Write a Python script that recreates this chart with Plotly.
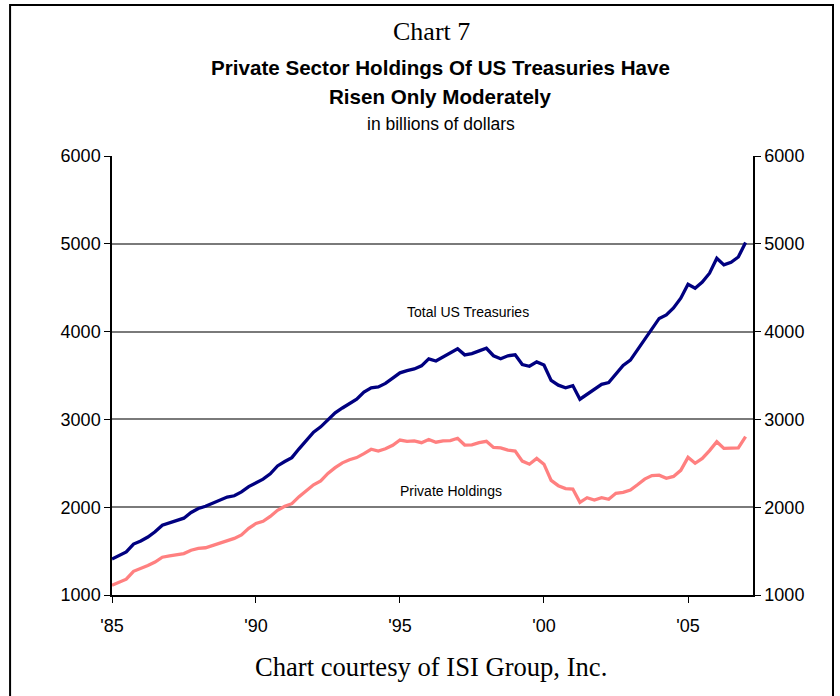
import pandas as pd
import plotly.graph_objects as go

# Quarterly observations, 1985Q1 .. 2007Q1 (billions of dollars)
quarters = pd.date_range("1985-01-01", periods=89, freq="QS")

total_us_treasuries = [
    1410, 1450, 1490, 1580, 1615, 1660, 1720, 1795, 1820, 1850, 1875, 1940,
    1985, 2010, 2045, 2080, 2115, 2130, 2175, 2235, 2280, 2320, 2380, 2470,
    2520, 2565, 2665, 2760, 2855, 2915, 2990, 3075, 3130, 3185, 3230, 3310,
    3360, 3370, 3410, 3470, 3530, 3555, 3575, 3610, 3690, 3665, 3710, 3760,
    3805, 3735, 3750, 3780, 3810, 3725, 3690, 3725, 3735, 3625, 3605, 3655,
    3620, 3445, 3390, 3360, 3385, 3230, 3290, 3345, 3400, 3420, 3520, 3615,
    3675, 3790, 3910, 4040, 4150, 4190, 4270, 4380, 4540, 4495, 4565, 4665,
    4835, 4760, 4790, 4850, 5015,
]

private_holdings = [
    1110, 1140, 1180, 1270, 1300, 1335, 1375, 1430, 1445, 1460, 1472, 1510,
    1530, 1538, 1565, 1590, 1625, 1645, 1685, 1760, 1815, 1840, 1895, 1965,
    2010, 2040, 2120, 2190, 2255, 2300, 2385, 2450, 2505, 2540, 2565, 2610,
    2660, 2640, 2665, 2705, 2765, 2750, 2755, 2735, 2772, 2740, 2755, 2758,
    2785, 2708, 2710, 2735, 2750, 2680, 2675, 2650, 2640, 2525, 2490, 2555,
    2490, 2305, 2245, 2212, 2207, 2056, 2108, 2082, 2108, 2090, 2158, 2170,
    2196, 2255, 2320, 2360, 2365, 2329, 2350, 2420, 2568, 2500, 2555, 2644,
    2746, 2670, 2668, 2675, 2803,
]

tick_dates = ["1985-01-01", "1990-01-01", "1995-01-01", "2000-01-01", "2005-01-01"]
tick_labels = ["'85", "'90", "'95", "'00", "'05"]
y_ticks = [1000, 2000, 3000, 4000, 5000, 6000]

SANS = "Liberation Sans, Arial, sans-serif"
SERIF = "Liberation Serif, Times New Roman, serif"

fig = go.Figure()
fig.add_trace(go.Scatter(
    x=quarters, y=private_holdings, mode="lines", name="Private Holdings",
    line=dict(color="#FF8080", width=3.3), hoverinfo="skip"))
fig.add_trace(go.Scatter(
    x=quarters, y=total_us_treasuries, mode="lines", name="Total US Treasuries",
    line=dict(color="#000080", width=3.3), hoverinfo="skip"))
# invisible trace to anchor the right-hand axis
fig.add_trace(go.Scatter(
    x=quarters, y=total_us_treasuries, mode="lines", yaxis="y2",
    line=dict(color="rgba(0,0,0,0)", width=0), hoverinfo="skip", showlegend=False))

fig.update_layout(
    width=840, height=696,
    margin=dict(l=112, r=87, t=156, b=101),
    paper_bgcolor="white", plot_bgcolor="white",
    showlegend=False,
    font=dict(family=SANS, color="black", size=18),
    xaxis=dict(
        range=["1985-01-01", "2007-04-05"],
        tickvals=tick_dates, ticktext=tick_labels,
        showgrid=False, zeroline=False,
        showline=True, linecolor="black", linewidth=1.5,
        ticks="outside", ticklen=6, tickcolor="black", tickwidth=1,
        ticklabelstandoff=8,
        tickfont=dict(family=SANS, size=18, color="black"),
    ),
    yaxis=dict(
        range=[1000, 6000], tickvals=y_ticks,
        showgrid=True, gridcolor="#7a7a7a", gridwidth=2,
        zeroline=False, showline=True, linecolor="black", linewidth=1.5,
        ticks="outside", ticklen=6, tickcolor="black",
        tickfont=dict(family=SANS, size=18, color="black"),
    ),
    yaxis2=dict(
        range=[1000, 6000], tickvals=y_ticks, overlaying="y", side="right",
        showgrid=False, zeroline=False, showline=True, linecolor="black",
        linewidth=1.5, ticks="outside", ticklen=6, tickcolor="black",
        tickfont=dict(family=SANS, size=18, color="black"),
    ),
)

# outer frame
fig.add_shape(type="rect", xref="paper", yref="paper",
              x0=-0.159, x1=1.1248, y0=-0.25, y1=1.344,
              line=dict(color="black", width=2), fillcolor="rgba(0,0,0,0)")

annotations = [
    dict(text="Chart 7", x=0.4977, y=1.2825, font=dict(family=SERIF, size=26)),
    dict(text="<b>Private Sector Holdings Of US Treasuries Have</b>", x=0.513, y=1.2027,
         font=dict(family=SANS, size=20.6)),
    dict(text="<b>Risen Only Moderately</b>", x=0.513, y=1.1344,
         font=dict(family=SANS, size=20.6)),
    dict(text="in billions of dollars", x=0.513, y=1.0729, font=dict(family=SANS, size=17.5)),
    dict(text="Chart courtesy of ISI Group, Inc.", x=0.4977, y=-0.164,
         font=dict(family=SERIF, size=26.6)),
]
for a in annotations:
    fig.add_annotation(xref="paper", yref="paper", showarrow=False,
                       xanchor="center", yanchor="middle", **a)

fig.add_annotation(x="1997-05-10", y=4223, xref="x", yref="y", text="Total US Treasuries",
                   showarrow=False, font=dict(family=SANS, size=14, color="black"))
fig.add_annotation(x="1996-10-10", y=2184, xref="x", yref="y", text="Private Holdings",
                   showarrow=False, font=dict(family=SANS, size=14, color="black"))

fig.write_html("out.html")
